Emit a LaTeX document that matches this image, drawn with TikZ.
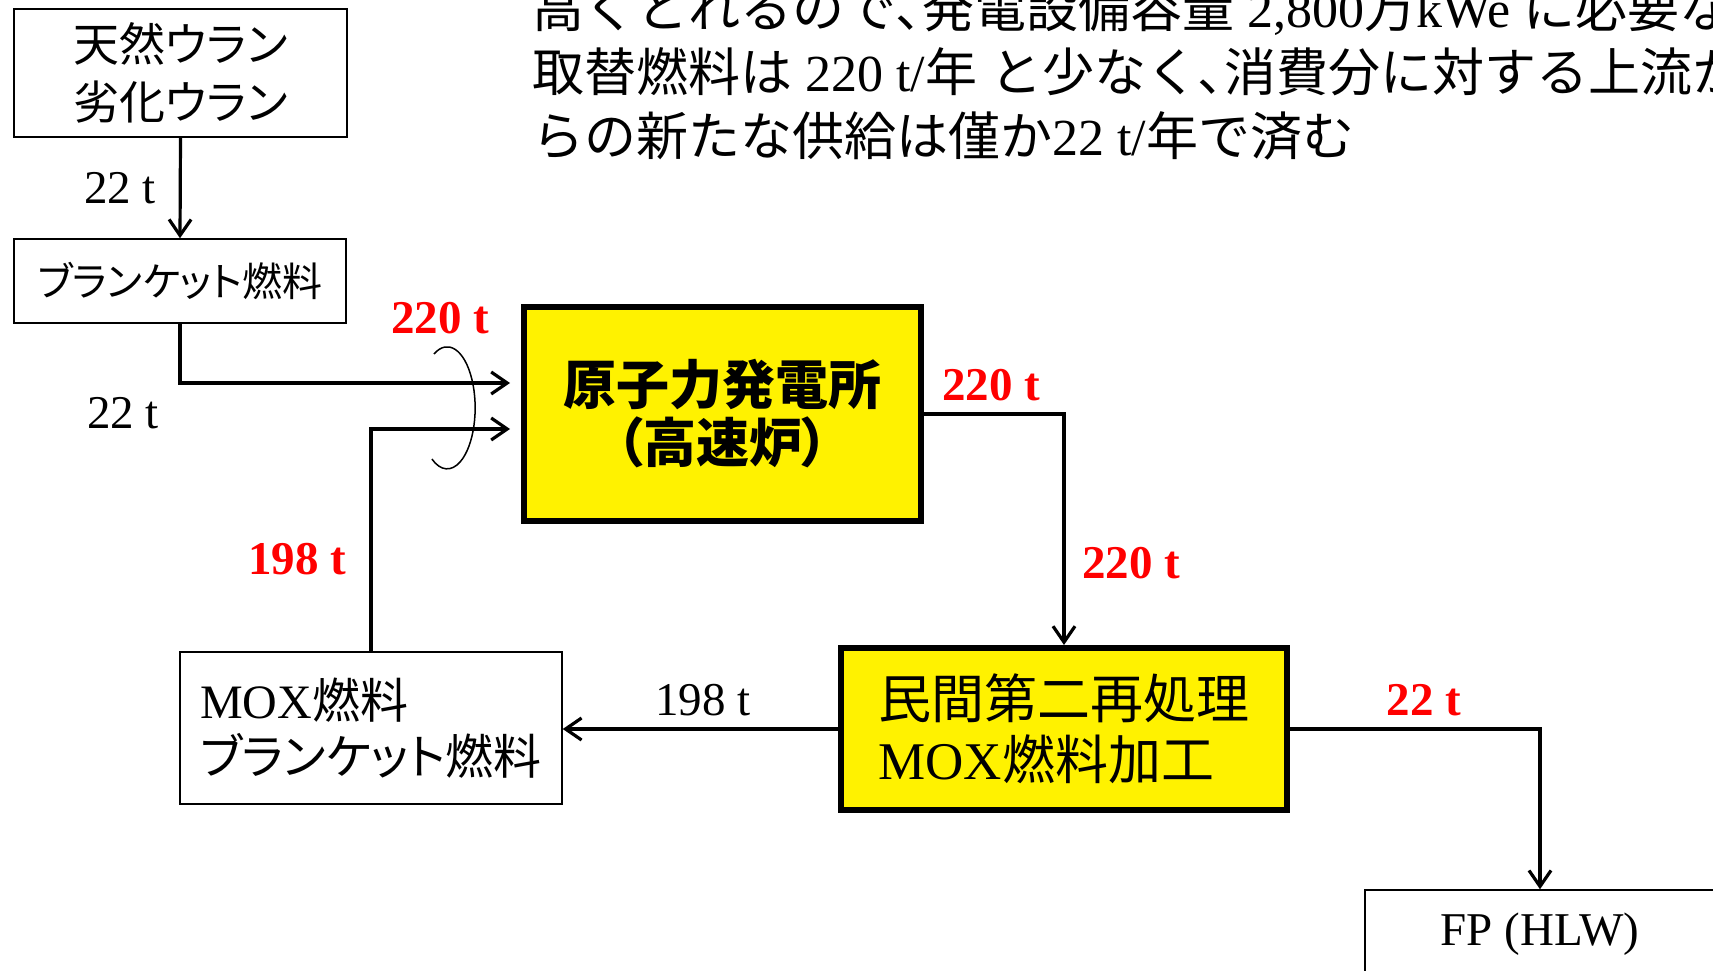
\documentclass[tikz,border=0pt]{standalone}
\usepackage{fontspec}
\setmainfont{Liberation Serif}
\newfontfamily\jp[RawFeature=+palt]{Noto Sans CJK JP}
\newfontfamily\jpw{Noto Sans CJK JP}
\usetikzlibrary{arrows.meta}
\tikzset{
  box/.style={draw, line width=1.5pt, fill=white, inner sep=0pt},
  ybox/.style={draw, line width=6pt, fill=yellow, inner sep=0pt},
  flow/.style={line width=3.2pt, -{Straight Barb[length=16pt,width=22pt]}},
  lbl/.style={font=\fontsize{47}{50}\selectfont, inner sep=0pt},
  rlbl/.style={font=\fontsize{47}{50}\selectfont\bfseries, text=red, inner sep=0pt},
  toptext/.style={font=\fontsize{52}{52}\selectfont, anchor=base west, inner sep=0pt},
}
\begin{document}
\begin{tikzpicture}[x=1pt,y=-1pt]
\useasboundingbox (0,0) rectangle (1713,971);
\clip (0,0) rectangle (1713,971);

% top explanatory text (cut by the frame)
\node[toptext] (t1) at (532,28) {{\jpw 高くとれるので}{\jp 、}{\jpw 発電設備容量} 2,800{\jpw 万}kWe {\jpw に必要な}};
\node[toptext] (t2) at (532,92) {{\jpw 取替燃料は} 220 t/{\jpw 年} {\jpw と少なく}{\jp 、}{\jpw 消費分に対する上流か}};
\node[toptext] (t3) at (532,156) {{\jpw らの新たな供給は僅か}22 t/{\jpw 年で済む}};

% boxes
\node[box, minimum width=333pt, minimum height=128pt, align=center,
      font=\jp\fontsize{46}{58}\selectfont] (nat) at (180.5,73) {天然ウラン\\劣化ウラン};
\node[box, minimum width=332pt, minimum height=84pt,
      font=\jp\fontsize{40}{40}\selectfont] (blk) at (180,281) {ブランケット燃料};
\node[ybox, minimum width=397pt, minimum height=214pt, align=center,
      font=\jp\bfseries\fontsize{53}{58}\selectfont] (fbr) at (722.5,414) {原子力発電所\\（高速炉）};
\node[ybox, minimum width=446pt, minimum height=162pt, align=left,
      font=\fontsize{53}{61}\selectfont] (rep) at (1064,729)
      {{\jp 民間第二再処理}\\MOX{\jp 燃料加工}};
\node[box, minimum width=382pt, minimum height=152pt, align=left,
      font=\fontsize{48}{56}\selectfont] (mox) at (371,728)
      {MOX{\jp 燃料}\\{\jp ブランケット燃料}};
\node[box, minimum width=350pt, minimum height=88pt,
      font=\fontsize{47}{50}\selectfont] (fp) at (1540,934) {FP (HLW)};

% connectors
\coordinate (in1) at (510,383);
\coordinate (in2) at (510,429);
\draw[flow] (nat.south) -- (blk.north);
\draw[flow] (blk.south) |- (in1);
\draw[flow] (mox.north) |- (in2);
\draw[flow] (fbr.east) -| (rep.north);
\draw[flow] (rep.west) -- (rep.west -| mox.east);
\draw[flow] (rep.east) -| (fp.north);

% bundle mark
\coordinate (arcstart) at (434,354);
\draw[line width=1.5pt] (arcstart) arc[start angle=118, end angle=-123, x radius=28pt, y radius=61pt];

% labels
\node[lbl]  (l1) at (120,188) {22 t};
\node[lbl]  (l2) at (123,413) {22 t};
\node[rlbl] (l3) at (440,318) {220 t};
\node[rlbl] (l4) at (297,559) {198 t};
\node[rlbl] (l5) at (991,385) {220 t};
\node[rlbl] (l6) at (1131,563) {220 t};
\node[lbl]  (l7) at (703,700) {198 t};
\node[rlbl] (l8) at (1424,700) {22 t};
\end{tikzpicture}
\end{document}
